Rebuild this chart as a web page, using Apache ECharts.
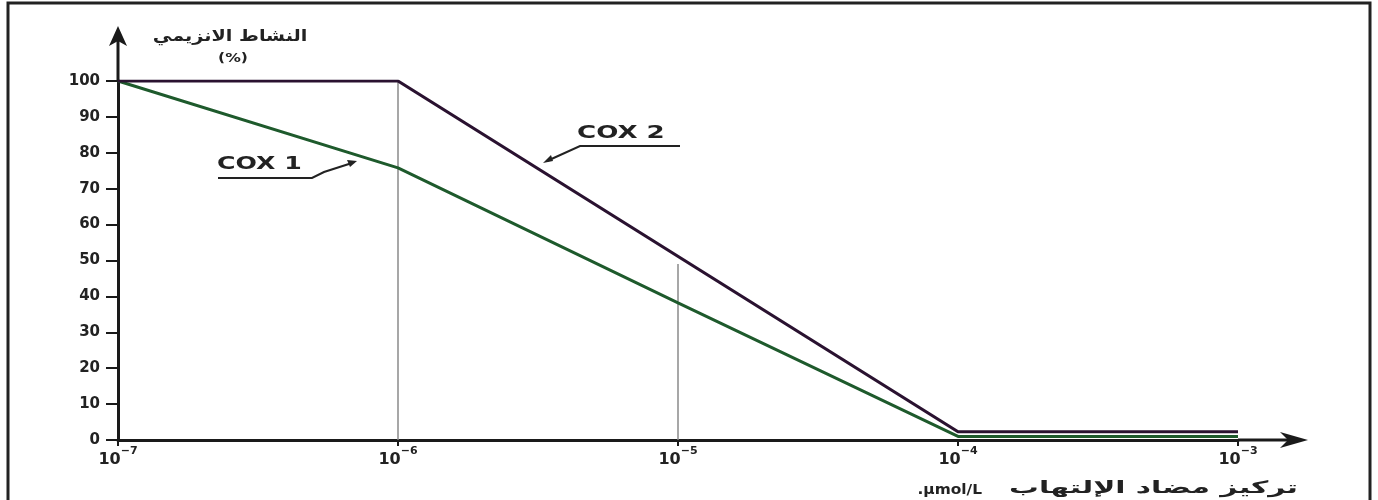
<!DOCTYPE html>
<html>
<head>
<meta charset="utf-8">
<script src="https://cdn.jsdelivr.net/npm/echarts@6/dist/echarts.min.js"></script>
<style>html,body{margin:0;padding:0;background:#fff}#c{width:1378px;height:500px}</style>
</head>
<body>
<div id="c"></div>
<script>
// ---- data ----
const xTicks = [1e-7, 1e-6, 1e-5, 1e-4, 1e-3];
const cox2X = [1e-7, 1e-6, 1e-4, 1e-3];
const cox2Y = [100, 100, 2.3, 2.3];
const cox1X = [1e-7, 1e-6, 1e-5, 1e-4, 1e-3];
const cox1Y = [100, 75.8, 38.2, 1, 1];
const guideX = [1e-6, 1e-5];
const guideTop = [100, 49];
const yLabels = [0, 10, 20, 30, 40, 50, 60, 70, 80, 90, 100];
const yTitle = 'النشاط الانزيمي';
const yUnit = '(%)';
const xTitle = 'تركيز مضاد الإلتهاب';
const xUnit = '.µmol/L';
const seriesNames = ['COX 2', 'COX 1'];

const chart = echarts.init(document.getElementById('c'));
const pair = (xs, ys) => xs.map((x, i) => [x, ys[i]]);
const guides = guideX.map((x, i) => ({
  type: 'line', data: [[x, 0], [x, guideTop[i]]], symbol: 'none', silent: true,
  lineStyle: { color: '#8a8a8a', width: 1.5 }, z: 1
}));
const font = 'DejaVu Sans';
chart.setOption({
  animation: false,
  backgroundColor: '#fff',
  grid: { left: 118, right: 140, top: 81, bottom: 60 },
  xAxis: {
    type: 'log', logBase: 10, min: xTicks[0], max: xTicks[xTicks.length - 1], splitNumber: 4,
    axisLine: { lineStyle: { color: '#1a1a1a', width: 3 } },
    axisTick: { show: true, length: 6, lineStyle: { color: '#1a1a1a', width: 2 } },
    minorTick: { show: false },
    splitLine: { show: false },
    axisLabel: {
      margin: 6,
      formatter: v => '{b|10}{s|−' + Math.round(-Math.log10(v)) + '}',
      rich: {
        b: { fontFamily: font, fontWeight: 'bold', fontSize: 16, color: '#222', lineHeight: 22, verticalAlign: 'bottom' },
        s: { fontFamily: font, fontWeight: 'bold', fontSize: 11, color: '#222', lineHeight: 22, verticalAlign: 'top' }
      }
    }
  },
  yAxis: {
    type: 'value', min: 0, max: 100, interval: 10,
    axisLine: { show: true, lineStyle: { color: '#1a1a1a', width: 3 } },
    axisTick: { show: true, length: 12, lineStyle: { color: '#1a1a1a', width: 2 } },
    splitLine: { show: false },
    axisLabel: {
      margin: 18, fontFamily: font, fontWeight: 'bold', fontSize: 15, color: '#222',
      formatter: v => yLabels.includes(v) ? String(v) : ''
    }
  },
  series: guides.concat([
    { name: seriesNames[1], type: 'line', data: pair(cox1X, cox1Y), symbol: 'none', z: 3,
      lineStyle: { color: '#1e5a2c', width: 3 } },
    { name: seriesNames[0], type: 'line', data: pair(cox2X, cox2Y), symbol: 'none', z: 4,
      lineStyle: { color: '#2a1230', width: 3.2 } }
  ])
});

// decorations (axis arrows, labels, frame)
const pEnd = chart.convertToPixel('grid', [xTicks[xTicks.length - 1], 0]);
const pTop = chart.convertToPixel('grid', [xTicks[0], 100]);
const ax = pEnd[0], ay = pEnd[1], ox = pTop[0], oy = pTop[1];
const dark = '#1a1a1a';
const txt = (text, x, y, align, fontCss, sx) => ({
  type: 'text', x: x, y: y, scaleX: sx || 1,
  style: { text: text, x: 0, y: 0, align: align, verticalAlign: 'middle', font: fontCss, fill: '#222' }
});
chart.setOption({
  graphic: [
    { type: 'rect', shape: { x: 8, y: 3, width: 1362, height: 520 }, style: { fill: 'none', stroke: '#222', lineWidth: 3 }, z: 100 },
    // x axis extension + arrow
    { type: 'line', shape: { x1: ax, y1: ay, x2: ax + 55, y2: ay }, style: { stroke: dark, lineWidth: 3 } },
    { type: 'polygon', shape: { points: [[ax + 70, ay], [ax + 42, ay - 8], [ax + 50, ay], [ax + 42, ay + 8]] }, style: { fill: dark } },
    // y axis extension + arrow
    { type: 'line', shape: { x1: ox, y1: oy, x2: ox, y2: oy - 42 }, style: { stroke: dark, lineWidth: 3 } },
    { type: 'polygon', shape: { points: [[ox, oy - 55], [ox - 9, oy - 35], [ox, oy - 40], [ox + 9, oy - 35]] }, style: { fill: dark } },
    // y title
    txt(yTitle, 230, 37, 'center', 'bold 16px "DejaVu Sans"', 1.2),
    txt(yUnit, 233, 59, 'center', 'bold 12px "DejaVu Sans"', 1.3),
    // x title
    txt(xTitle, 1298, 489, 'right', 'bold 17px "DejaVu Sans"', 1.75),
    txt(xUnit, 982, 490, 'right', 'bold 14px "DejaVu Sans"', 1.1),
    // COX 2 label
    txt(seriesNames[0], 577, 133, 'left', 'bold 18px "DejaVu Sans"', 1.45),
    { type: 'polyline', shape: { points: [[680, 146], [580, 146], [547, 161]] }, style: { stroke: '#222', lineWidth: 2, fill: 'none' } },
    { type: 'polygon', shape: { points: [[543, 163], [551, 155], [553, 161]] }, style: { fill: '#222' } },
    // COX 1 label
    txt(seriesNames[1], 217, 164, 'left', 'bold 18px "DejaVu Sans"', 1.4),
    { type: 'polyline', shape: { points: [[218, 178], [312, 178], [324, 172], [352, 163]] }, style: { stroke: '#222', lineWidth: 2, fill: 'none' } },
    { type: 'polygon', shape: { points: [[357, 161], [347, 160], [350, 167]] }, style: { fill: '#222' } }
  ]
});
</script>
</body>
</html>
